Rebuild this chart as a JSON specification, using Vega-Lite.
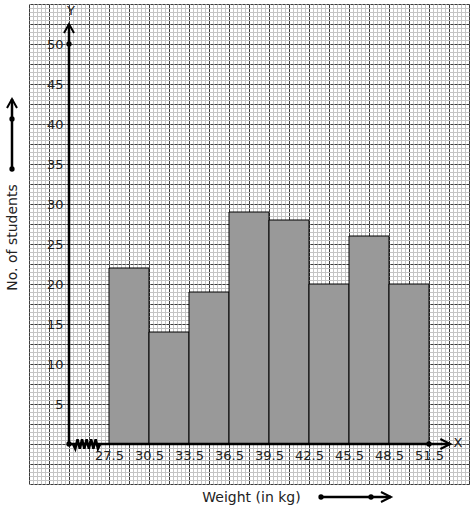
{
  "$schema": "https://vega.github.io/schema/vega-lite/v6.json",
  "autosize": {"type": "none"},
  "padding": {"left": 29, "top": 4, "right": 5, "bottom": 26},
  "width": 440,
  "height": 480,
  "background": "white",
  "config": {
    "view": {"stroke": "#333", "strokeWidth": 1},
    "font": "DejaVu Sans",
    "axis": {"labelFont": "DejaVu Sans", "titleFont": "DejaVu Sans"}
  },
  "datasets": {
    "bars": [
      {"start": 27.5, "end": 30.5, "count": 22},
      {"start": 30.5, "end": 33.5, "count": 14},
      {"start": 33.5, "end": 36.5, "count": 19},
      {"start": 36.5, "end": 39.5, "count": 29},
      {"start": 39.5, "end": 42.5, "count": 28},
      {"start": 42.5, "end": 45.5, "count": 20},
      {"start": 45.5, "end": 48.5, "count": 26},
      {"start": 48.5, "end": 51.5, "count": 20}
    ],
    "lines": [
      {"x1": 24.5, "y1": 0, "x2": 24.5, "y2": 52.5},
      {"x1": 24.5, "y1": 0, "x2": 53.1, "y2": 0},
      {"x1": 20.225, "y1": 34.375, "x2": 20.225, "y2": 43.125},
      {"x1": 43.4, "y1": -6.625, "x2": 48.65, "y2": -6.625}
    ],
    "zigzag": [
      {"x": 24.80, "y": 0},
      {"x": 24.97, "y": -0.6},
      {"x": 25.14, "y": 0.6},
      {"x": 25.31, "y": -0.6},
      {"x": 25.48, "y": 0.6},
      {"x": 25.65, "y": -0.6},
      {"x": 25.82, "y": 0.6},
      {"x": 25.99, "y": -0.6},
      {"x": 26.16, "y": 0.6},
      {"x": 26.33, "y": -0.6},
      {"x": 26.50, "y": 0.6},
      {"x": 26.67, "y": -0.6},
      {"x": 26.84, "y": 0}
    ],
    "dots": [
      {"x": 24.5, "y": 0},
      {"x": 24.5, "y": 50},
      {"x": 51.5, "y": 0},
      {"x": 20.225, "y": 34.375},
      {"x": 20.225, "y": 40.625},
      {"x": 43.4, "y": -6.625},
      {"x": 47.15, "y": -6.625}
    ],
    "uparrows": [
      {"x": 24.5, "y": 52.5},
      {"x": 20.225, "y": 43.125}
    ],
    "rightarrows": [
      {"x": 53.1, "y": 0},
      {"x": 48.65, "y": -6.625}
    ],
    "letters": [
      {"x": 24.65, "y": 54.125, "label": "Y"},
      {"x": 53.675, "y": 0.125, "label": "X"}
    ]
  },
  "layer": [
    {
      "data": {"name": "bars"},
      "mark": {"type": "point", "opacity": 0},
      "encoding": {
        "x": {"field": "start", "type": "quantitative",
          "scale": {"domain": [21.5, 54.5], "nice": false, "zero": false},
          "axis": {"orient": "top", "grid": true, "gridColor": "#c4c4c4", "gridWidth": 1, "domain": false, "ticks": false, "labels": false, "title": null,
            "values": [21.5,21.8,22.1,22.4,22.7,23.0,23.3,23.6,23.9,24.2,24.5,24.8,25.1,25.4,25.7,26.0,26.3,26.6,26.9,27.2,27.5,27.8,28.1,28.4,28.7,29.0,29.3,29.6,29.9,30.2,30.5,30.8,31.1,31.4,31.7,32.0,32.3,32.6,32.9,33.2,33.5,33.8,34.1,34.4,34.7,35.0,35.3,35.6,35.9,36.2,36.5,36.8,37.1,37.4,37.7,38.0,38.3,38.6,38.9,39.2,39.5,39.8,40.1,40.4,40.7,41.0,41.3,41.6,41.9,42.2,42.5,42.8,43.1,43.4,43.7,44.0,44.3,44.6,44.9,45.2,45.5,45.8,46.1,46.4,46.7,47.0,47.3,47.6,47.9,48.2,48.5,48.8,49.1,49.4,49.7,50.0,50.3,50.6,50.9,51.2,51.5,51.8,52.1,52.4,52.7,53.0,53.3,53.6,53.9,54.2,54.5]}},
        "y": {"field": "count", "type": "quantitative",
          "scale": {"domain": [-5, 55], "nice": false, "zero": false},
          "axis": {"orient": "right", "grid": true, "gridColor": "#c4c4c4", "gridWidth": 1, "domain": false, "ticks": false, "labels": false, "title": null,
            "values": [-5,-4.5,-4,-3.5,-3,-2.5,-2,-1.5,-1,-0.5,0,0.5,1,1.5,2,2.5,3,3.5,4,4.5,5,5.5,6,6.5,7,7.5,8,8.5,9,9.5,10,10.5,11,11.5,12,12.5,13,13.5,14,14.5,15,15.5,16,16.5,17,17.5,18,18.5,19,19.5,20,20.5,21,21.5,22,22.5,23,23.5,24,24.5,25,25.5,26,26.5,27,27.5,28,28.5,29,29.5,30,30.5,31,31.5,32,32.5,33,33.5,34,34.5,35,35.5,36,36.5,37,37.5,38,38.5,39,39.5,40,40.5,41,41.5,42,42.5,43,43.5,44,44.5,45,45.5,46,46.5,47,47.5,48,48.5,49,49.5,50,50.5,51,51.5,52,52.5,53,53.5,54,54.5,55]}}
      }
    },
    {
      "data": {"name": "bars"},
      "mark": {"type": "point", "opacity": 0},
      "encoding": {
        "x": {"field": "start", "type": "quantitative",
          "scale": {"domain": [21.5, 54.5], "nice": false, "zero": false},
          "axis": {"orient": "top", "grid": true, "gridColor": "#3a3a3a", "gridWidth": 1, "domain": false, "ticks": false, "labels": false, "title": null,
            "values": [21.5,23,24.5,26,27.5,29,30.5,32,33.5,35,36.5,38,39.5,41,42.5,44,45.5,47,48.5,50,51.5,53,54.5]}},
        "y": {"field": "count", "type": "quantitative",
          "scale": {"domain": [-5, 55], "nice": false, "zero": false},
          "axis": {"orient": "right", "grid": true, "gridColor": "#3a3a3a", "gridWidth": 1, "gridDash": [3, 1], "domain": false, "ticks": false, "labels": false, "title": null,
            "values": [-5,-2.5,0,2.5,5,7.5,10,12.5,15,17.5,20,22.5,25,27.5,30,32.5,35,37.5,40,42.5,45,47.5,50,52.5,55]}}
      }
    },
    {
      "data": {"name": "bars"},
      "mark": {"type": "rect", "fill": "#999999", "stroke": "#000000", "strokeWidth": 1},
      "encoding": {
        "x": {"field": "start", "type": "quantitative",
          "scale": {"domain": [21.5, 54.5], "nice": false, "zero": false},
          "axis": {"orient": "bottom", "offset": -40, "grid": false, "domain": false, "ticks": false,
            "values": [27.5,30.5,33.5,36.5,39.5,42.5,45.5,48.5,51.5], "format": ".1f",
            "labelFontSize": 13, "labelColor": "#222", "labelPadding": 5,
            "title": "Weight (in kg)", "titleFontSize": 14, "titleFontWeight": "normal", "titleColor": "#222",
            "titleX": 222, "titleY": 53, "titleAlign": "center", "titleBaseline": "middle"}},
        "x2": {"field": "end"},
        "y": {"field": "count", "type": "quantitative",
          "scale": {"domain": [-5, 55], "nice": false, "zero": false},
          "axis": {"orient": "left", "offset": -40, "grid": false, "domain": false, "ticks": false,
            "values": [5,10,15,20,25,30,35,40,45,50],
            "labelFontSize": 13, "labelColor": "#222", "labelPadding": 6,
            "title": "No. of students", "titleFontSize": 14, "titleFontWeight": "normal", "titleColor": "#222",
            "titleX": -57, "titleY": 233, "titleAngle": -90, "titleAlign": "center", "titleBaseline": "middle"}},
        "y2": {"datum": 0}
      }
    },
    {
      "data": {"name": "lines"},
      "mark": {"type": "rule", "color": "#000", "strokeWidth": 2.5},
      "encoding": {
        "x": {"field": "x1", "type": "quantitative", "axis": null},
        "y": {"field": "y1", "type": "quantitative", "axis": null},
        "x2": {"field": "x2"},
        "y2": {"field": "y2"}
      }
    },
    {
      "data": {"name": "zigzag"},
      "mark": {"type": "line", "color": "#000", "strokeWidth": 2.5},
      "encoding": {
        "x": {"field": "x", "type": "quantitative", "axis": null},
        "y": {"field": "y", "type": "quantitative", "axis": null},
        "order": {"field": "x"}
      }
    },
    {
      "data": {"name": "dots"},
      "mark": {"type": "circle", "color": "#000", "size": 28, "opacity": 1},
      "encoding": {
        "x": {"field": "x", "type": "quantitative", "axis": null},
        "y": {"field": "y", "type": "quantitative", "axis": null}
      }
    },
    {
      "data": {"name": "uparrows"},
      "mark": {"type": "point", "shape": "M-1,1.8L0,0L1,1.8", "filled": false, "stroke": "#000", "strokeWidth": 2, "size": 100, "opacity": 1},
      "encoding": {
        "x": {"field": "x", "type": "quantitative", "axis": null},
        "y": {"field": "y", "type": "quantitative", "axis": null}
      }
    },
    {
      "data": {"name": "rightarrows"},
      "mark": {"type": "point", "shape": "M-2,-1L0,0L-2,1", "filled": false, "stroke": "#000", "strokeWidth": 2, "size": 100, "opacity": 1},
      "encoding": {
        "x": {"field": "x", "type": "quantitative", "axis": null},
        "y": {"field": "y", "type": "quantitative", "axis": null}
      }
    },
    {
      "data": {"name": "letters"},
      "mark": {"type": "text", "font": "DejaVu Sans", "fontSize": 13, "color": "#222", "align": "center", "baseline": "middle"},
      "encoding": {
        "x": {"field": "x", "type": "quantitative", "axis": null},
        "y": {"field": "y", "type": "quantitative", "axis": null},
        "text": {"field": "label"}
      }
    }
  ],
  "resolve": {"axis": {"x": "independent", "y": "independent"}}
}
